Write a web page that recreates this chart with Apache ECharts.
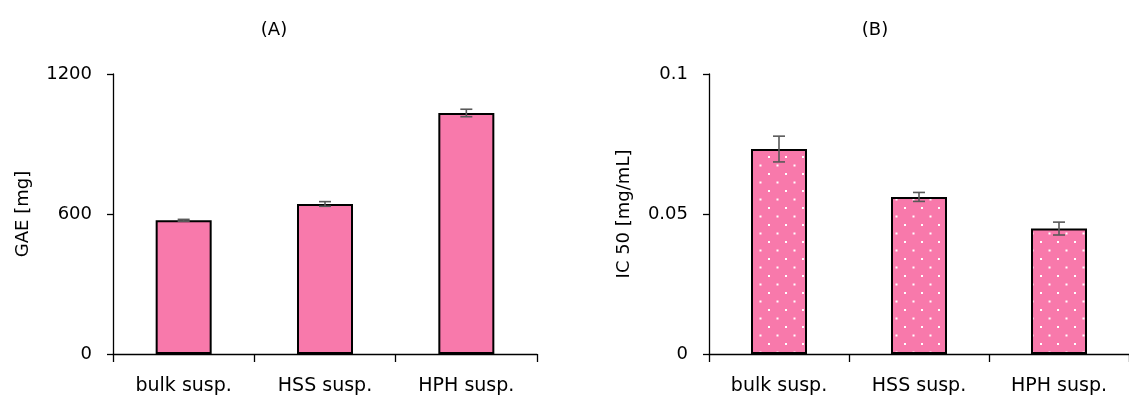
<!DOCTYPE html>
<html>
<head>
<meta charset="utf-8">
<script src="https://cdn.jsdelivr.net/npm/echarts@6/dist/echarts.min.js"></script>
<style>
html,body{margin:0;padding:0;background:#fff;}
#chart{width:1129px;height:396px;}
</style>
</head>
<body>
<div id="chart"></div>
<script>
// ---- data ----
const categories = ['bulk susp.', 'HSS susp.', 'HPH susp.'];
const gaeValues = [573, 643, 1033];
const gaeErrors = [4, 10, 16];
const icValues = [0.0732, 0.0561, 0.0448];
const icErrors = [0.0046, 0.0016, 0.0023];
const gaeTicks = [0, 600, 1200];
const icTicks = [0, 0.05, 0.1];
const titles = ['(A)', '(B)'];
const yNames = ['GAE [mg]', 'IC 50 [mg/mL]'];

const FONT = '"DejaVu Sans", sans-serif';
const FS = 18;
const PINK = '#F879AB';

// dotted pattern for chart B
const tile = document.createElement('canvas');
tile.width = 17; tile.height = 17;
const tctx = tile.getContext('2d');
tctx.fillStyle = PINK;
tctx.fillRect(0, 0, 17, 17);
tctx.fillStyle = '#ffffff';
tctx.fillRect(3, 3, 2, 2);
tctx.fillRect(11.5, 11.5, 2, 2);

function errSeries(xi, yi, vals, errs) {
  return {
    type: 'custom',
    xAxisIndex: xi, yAxisIndex: yi,
    z: 5,
    data: vals.map((v, i) => [i, v, errs[i]]),
    renderItem: function (params, api) {
      const x = api.value(0), v = api.value(1), e = api.value(2);
      const top = api.coord([x, v + e]);
      const bot = api.coord([x, v - e]);
      const hw = 6;
      const st = { stroke: '#595959', lineWidth: 1.6 };
      return {
        type: 'group',
        children: [
          { type: 'line', shape: { x1: top[0], y1: top[1], x2: bot[0], y2: bot[1] }, style: st },
          { type: 'line', shape: { x1: top[0] - hw, y1: top[1], x2: top[0] + hw, y2: top[1] }, style: st },
          { type: 'line', shape: { x1: bot[0] - hw, y1: bot[1], x2: bot[0] + hw, y2: bot[1] }, style: st }
        ]
      };
    }
  };
}

function xAx(gi) {
  return {
    type: 'category', gridIndex: gi, data: categories,
    axisLine: { lineStyle: { color: '#000', width: 1.3 } },
    axisTick: { show: true, length: 8, lineStyle: { color: '#000', width: 1.3 } },
    axisLabel: { color: '#000', fontFamily: FONT, fontSize: 19, margin: 23 }
  };
}
function yAx(gi, ticks, name, gap) {
  return {
    type: 'value', gridIndex: gi,
    min: ticks[0], max: ticks[ticks.length - 1], interval: ticks[1] - ticks[0],
    splitLine: { show: false },
    axisLine: { show: true, lineStyle: { color: '#000', width: 1.3 } },
    axisTick: { show: true, length: 6, lineStyle: { color: '#000', width: 1.3 } },
    axisLabel: { color: '#000', fontFamily: FONT, fontSize: FS, margin: 21,
      formatter: function (v) { return String(v); } },
    name: name, nameLocation: 'middle', nameGap: gap, nameRotate: 90,
    nameTextStyle: { color: '#000', fontFamily: FONT, fontSize: FS }
  };
}

const chart = echarts.init(document.getElementById('chart'), null, { renderer: 'canvas' });
chart.setOption({
  animation: false,
  backgroundColor: '#fff',
  title: [
    { text: titles[0], left: 269, top: 25, textAlign: 'center', textVerticalAlign: 'middle',
      textStyle: { color: '#000', fontFamily: FONT, fontSize: FS, fontWeight: 'normal' } },
    { text: titles[1], left: 870, top: 25, textAlign: 'center', textVerticalAlign: 'middle',
      textStyle: { color: '#000', fontFamily: FONT, fontSize: FS, fontWeight: 'normal' } }
  ],
  grid: [
    { left: 113, top: 74, width: 424, height: 280 },
    { left: 709, top: 74, width: 428, height: 280 }
  ],
  xAxis: [xAx(0), xAx(1)],
  yAxis: [yAx(0, gaeTicks, yNames[0], 81), yAx(1, icTicks, yNames[1], 76)],
  series: [
    { type: 'bar', xAxisIndex: 0, yAxisIndex: 0, data: gaeValues, barWidth: 56,
      itemStyle: { color: PINK, borderColor: '#000', borderWidth: 2 } },
    { type: 'bar', xAxisIndex: 1, yAxisIndex: 1, data: icValues, barWidth: 56,
      itemStyle: { color: { image: tile, repeat: 'repeat' }, borderColor: '#000', borderWidth: 2 } },
    errSeries(0, 0, gaeValues, gaeErrors),
    errSeries(1, 1, icValues, icErrors)
  ]
});
</script>
</body>
</html>
